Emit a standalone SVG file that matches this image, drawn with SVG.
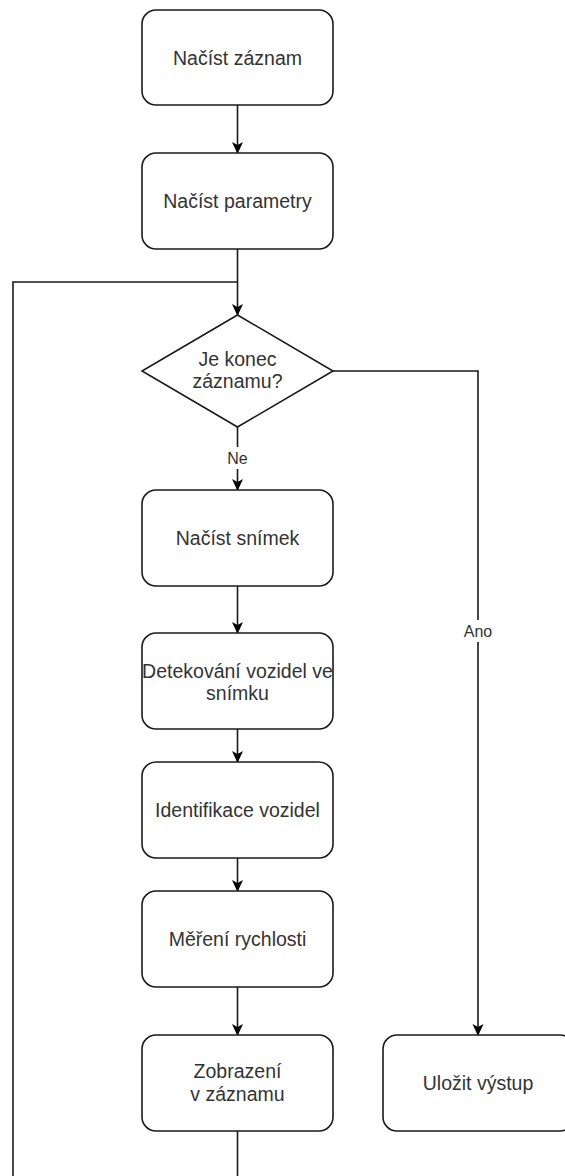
<svg xmlns="http://www.w3.org/2000/svg" width="565" height="1176" viewBox="0 0 565 1176">
<defs>
<marker id="arr" viewBox="0 0 12 12" refX="11" refY="6" markerWidth="12" markerHeight="12" markerUnits="userSpaceOnUse" orient="auto">
<path d="M0,0.5 L12,6 L0,11.5 L3,6 Z" fill="#000"/>
</marker>
</defs>
<style>
.n{fill:#fff;stroke:#1a1a1a;stroke-width:1.6}
.t{font-family:"Liberation Sans",Arial,sans-serif;font-size:19.5px;fill:#333;text-anchor:middle}
.l{font-family:"Liberation Sans",Arial,sans-serif;font-size:16px;fill:#333;text-anchor:middle}
.e{fill:none;stroke:#1a1a1a;stroke-width:1.6}
</style>
<rect width="565" height="1176" fill="#fff"/>
<g id="connectors">
<path class="e" d="M237.5,105 V153" marker-end="url(#arr)"/>
<path class="e" d="M237.5,249 V315" marker-end="url(#arr)"/>
<path class="e" d="M237.5,1131 V1200 H13 V282 H237.5"/>
<path class="e" d="M237.5,427 V490" marker-end="url(#arr)"/>
<path class="e" d="M237.5,586 V633" marker-end="url(#arr)"/>
<path class="e" d="M237.5,729 V762" marker-end="url(#arr)"/>
<path class="e" d="M237.5,858 V891" marker-end="url(#arr)"/>
<path class="e" d="M237.5,987 V1035" marker-end="url(#arr)"/>
<path class="e" d="M333,371 H478 V1035" marker-end="url(#arr)"/>
<rect x="224" y="447" width="27" height="22" fill="#fff"/>
<text class="l" x="237.5" y="463.5">Ne</text>
<rect x="461" y="620" width="34" height="22" fill="#fff"/>
<text class="l" x="478" y="636.5">Ano</text>
</g>
<g id="n1"><rect class="n" x="142" y="10" width="191" height="95" rx="14"/><text class="t" x="237.5" y="65">Načíst záznam</text></g>
<g id="n2"><rect class="n" x="142" y="153" width="191" height="96" rx="14"/><text class="t" x="237.5" y="208">Načíst parametry</text></g>
<g id="n3"><polygon class="n" points="237.5,315 333,371 237.5,427 142,371"/><text class="t" x="237.5" y="366">Je konec</text><text class="t" x="237.5" y="388">záznamu?</text></g>
<g id="n4"><rect class="n" x="142" y="490" width="191" height="96" rx="14"/><text class="t" x="237.5" y="545">Načíst snímek</text></g>
<g id="n5"><rect class="n" x="142" y="633" width="191" height="96" rx="14"/><text class="t" x="237.5" y="678">Detekování vozidel ve</text><text class="t" x="237.5" y="700">snímku</text></g>
<g id="n6"><rect class="n" x="142" y="762" width="191" height="96" rx="14"/><text class="t" x="237.5" y="817">Identifikace vozidel</text></g>
<g id="n7"><rect class="n" x="142" y="891" width="191" height="96" rx="14"/><text class="t" x="237.5" y="946">Měření rychlosti</text></g>
<g id="n8"><rect class="n" x="142" y="1035" width="191" height="96" rx="14"/><text class="t" x="237.5" y="1078">Zobrazení</text><text class="t" x="237.5" y="1101">v záznamu</text></g>
<g id="n9"><rect class="n" x="383" y="1035" width="191" height="96" rx="14"/><text class="t" x="478" y="1090">Uložit výstup</text></g>
</svg>
